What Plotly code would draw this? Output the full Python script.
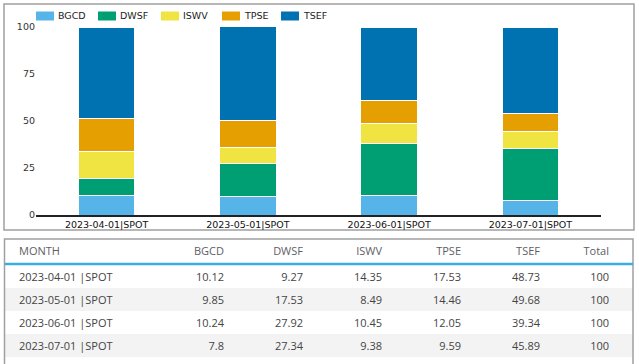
import plotly.graph_objects as go

categories = ["2023-04-01|SPOT", "2023-05-01|SPOT", "2023-06-01|SPOT", "2023-07-01|SPOT"]
series_names = ["BGCD", "DWSF", "ISWV", "TPSE", "TSEF"]
BGCD = [10.12, 9.85, 10.24, 7.8]
DWSF = [9.27, 17.53, 27.92, 27.34]
ISWV = [14.35, 8.49, 10.45, 9.38]
TPSE = [17.53, 14.46, 12.05, 9.59]
TSEF = [48.73, 49.68, 39.34, 45.89]
totals = [100, 100, 100, 100]
y_ticks = [0, 25, 50, 75, 100]

series_values = [BGCD, DWSF, ISWV, TPSE, TSEF]
colors = ["#56B4E9", "#009E73", "#F0E442", "#E69F00", "#0072B2"]

W, H = 639, 364
def px(x):
    return x / W
def py(y):
    return 1 - y / H

fig = go.Figure()
for name, vals, col in zip(series_names, series_values, colors):
    fig.add_trace(go.Bar(
        x=categories, y=vals, name=name,
        marker=dict(color=col, line=dict(color="white", width=1)),
        showlegend=False, hoverinfo="skip",
    ))

# Table
month_labels = [c.replace("|", " |") for c in categories]
def fmt(v):
    return ("%g" % v)
header_vals = ["", "MONTH"] + series_names + ["Total", ""]
cols = [[""] * 4, month_labels] + [[fmt(v) for v in s] for s in series_values] + [[str(t) for t in totals], [""] * 4]
row_fill = ["white", "#f3f3f3", "white", "#f3f3f3"]
ncol = len(header_vals)
fig.add_trace(go.Table(
    domain=dict(x=[px(5), px(633)], y=[0, py(239)]),
    columnwidth=[6, 142, 79, 79, 79, 79, 79, 69, 16],
    header=dict(values=header_vals,
                align=["left", "left"] + ["right"] * 7,
                fill=dict(color="white"),
                line=dict(color="rgba(0,0,0,0)", width=0),
                font=dict(family="Open Sans", size=11, color="#5e5e66"),
                height=26),
    cells=dict(values=cols,
               align=["left", "left"] + ["right"] * 7,
               fill=dict(color=[row_fill] * ncol),
               line=dict(color="rgba(0,0,0,0)", width=0),
               font=dict(family="Open Sans", size=11, color="#444"),
               height=23),
))

shapes = [
    dict(type="rect", xref="paper", yref="paper", x0=px(4), x1=px(634), y0=py(230), y1=py(4),
         line=dict(color="#a0a0a0", width=1.5), fillcolor="rgba(0,0,0,0)", layer="below"),
    dict(type="rect", xref="paper", yref="paper", x0=px(4.5), x1=px(633), y0=py(370), y1=py(239),
         line=dict(color="#a0a0a0", width=1.5), fillcolor="rgba(0,0,0,0)", layer="above"),
    dict(type="line", xref="paper", yref="paper", x0=px(5), x1=px(633), y0=py(264), y1=py(264),
         line=dict(color="#3aaee2", width=2.5), layer="above"),
]
annotations = []
# custom legend
leg_x = [36, 98, 161, 222, 281]
for name, col, x0 in zip(series_names, colors, leg_x):
    shapes.append(dict(type="rect", xref="paper", yref="paper", x0=px(x0), x1=px(x0 + 18),
                       y0=py(20.5), y1=py(11.5), line=dict(width=0), fillcolor=col))
    annotations.append(dict(xref="paper", yref="paper", x=px(x0 + 20), y=py(16), text=name,
                            showarrow=False, xanchor="left", yanchor="middle",
                            font=dict(family="DejaVu Sans", size=9.5, color="#222")))

fig.update_layout(
    width=W, height=H,
    margin=dict(l=0, r=0, t=0, b=0),
    barmode="stack", bargap=0.6,
    plot_bgcolor="white", paper_bgcolor="white",
    font=dict(family="DejaVu Sans", size=10, color="#333"),
    xaxis=dict(domain=[px(36), px(601)], showline=True, linecolor="#222", linewidth=1.5,
               showgrid=False, ticks="", automargin=False, tickfont=dict(size=9.5, color="#111")),
    yaxis=dict(domain=[py(215), py(27)], range=[0, 100], tickvals=y_ticks, showgrid=False,
               zeroline=False, showline=False, ticks="", automargin=False,
               tickfont=dict(size=9.5, color="#333")),
    shapes=shapes, annotations=annotations,
)
fig.write_html("out.html", config={"displayModeBar": False},
               post_script="document.body.style.margin='0';document.body.style.overflow='hidden';")
